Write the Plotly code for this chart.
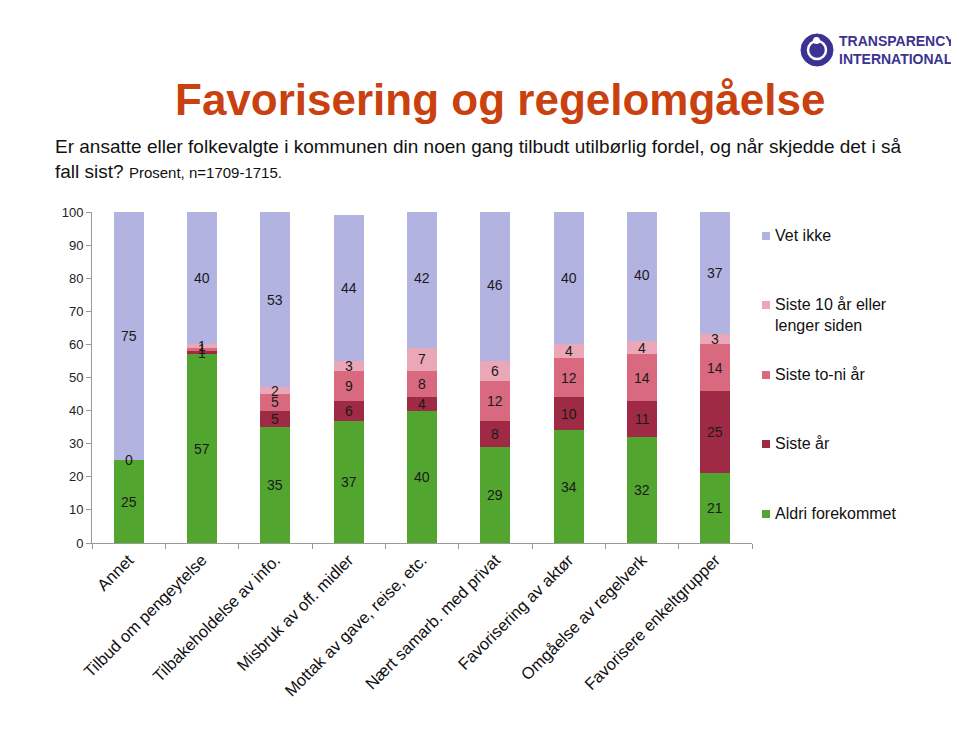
import plotly.graph_objects as go

categories = ["Annet", "Tilbud om pengeytelse", "Tilbakeholdelse av info.",
              "Misbruk av off. midler", "Mottak av gave, reise, etc.",
              "Nært samarb. med privat", "Favorisering av aktør",
              "Omgåelse av regelverk", "Favorisere enkeltgrupper"]

aldri = [25, 57, 35, 37, 40, 29, 34, 32, 21]
siste_aar = [0, 1, 5, 6, 4, 8, 10, 11, 25]
siste_to_ni = [None, 1, 5, 9, 8, 12, 12, 14, 14]
siste_10 = [None, 1, 2, 3, 7, 6, 4, 4, 3]
vet_ikke = [75, 40, 53, 44, 42, 46, 40, 40, 37]

series_names = ["Aldri forekommet", "Siste år", "Siste to-ni år",
                "Siste 10 år eller<br>lenger siden", "Vet ikke"]
series_values = [aldri, siste_aar, siste_to_ni, siste_10, vet_ikke]
series_colors = ["#52A52E", "#9E2A45", "#D8697F", "#EAA7B8", "#B3B3E1"]

FONT = "Arial, Liberation Sans, sans-serif"

# page has an 8px body margin; figure geometry in pixels (decoration placement only)
OFF = 8
W, H = 951, 729
L, R, T, B = 84, 207, 204, 194
PW, PH = W - L - R, H - T - B


def px(x):
    """reference-screenshot x pixel -> paper x"""
    return (x - OFF - L) / PW


def py(y):
    """reference-screenshot y pixel -> paper y"""
    return (H - B - (y - OFF)) / PH


fig = go.Figure()
annotations = []
shapes = []
cum = [0.0] * len(categories)
for name, vals, color in zip(series_names, series_values, series_colors):
    yv = [v if v is not None else 0 for v in vals]
    fig.add_trace(go.Bar(
        x=categories, y=yv, name=name.replace("<br>", " "),
        marker=dict(color=color, line=dict(width=0)),
        showlegend=False, hoverinfo="x+y+name",
    ))
    for j, v in enumerate(vals):
        if v is not None:
            annotations.append(dict(
                x=categories[j], y=cum[j] + v / 2, xref="x", yref="y",
                text=str(v), showarrow=False,
                font=dict(family=FONT, size=14, color="#1a1a1a"),
            ))
        cum[j] += yv[j]

# legend (drawn manually to match the original's spacing)
legend_y = {"Vet ikke": 236, "Siste 10 år eller<br>lenger siden": 305,
            "Siste to-ni år": 375, "Siste år": 444, "Aldri forekommet": 514}
for name, color in zip(series_names, series_colors):
    yc = legend_y[name]
    shapes.append(dict(type="rect", xref="paper", yref="paper",
                       x0=px(762), x1=px(770), y0=py(yc + 4), y1=py(yc - 4),
                       fillcolor=color, line=dict(width=0)))
    annotations.append(dict(
        x=px(773), y=py(yc - 11), xref="paper", yref="paper",
        xanchor="left", yanchor="top", align="left", showarrow=False,
        text=name, font=dict(family=FONT, size=16, color="#111111"),
    ))

# titles
annotations.append(dict(
    x=px(500), y=py(100), xref="paper", yref="paper", xanchor="center", yanchor="middle",
    text="<b>Favorisering og regelomgåelse</b>", showarrow=False,
    font=dict(family=FONT, size=44, color="#C9410F"),
))
annotations.append(dict(
    x=px(53), y=py(134), xref="paper", yref="paper", xanchor="left", yanchor="top",
    align="left", showarrow=False,
    text=("Er ansatte eller folkevalgte i kommunen din noen gang tilbudt utilbørlig fordel, og når skjedde det i så<br>"
          "fall sist? <span style='font-size:15px'>Prosent, n=1709-1715.</span>"),
    font=dict(family=FONT, size=19, color="#111111"),
))
# logo
annotations.append(dict(
    x=px(837), y=py(50), xref="paper", yref="paper", xanchor="left", yanchor="middle",
    align="left", showarrow=False,
    text="<b>TRANSPARENCY<br>INTERNATIONAL</b>",
    font=dict(family=FONT, size=14, color="#3A3393"),
))
shapes += [
    dict(type="circle", xref="paper", yref="paper",
         x0=px(801), x1=px(833), y0=py(66), y1=py(34),
         fillcolor="#3A3393", line=dict(color="#3A3393", width=1)),
    dict(type="circle", xref="paper", yref="paper",
         x0=px(808), x1=px(826), y0=py(59), y1=py(41),
         fillcolor="rgba(0,0,0,0)", line=dict(color="white", width=2.5)),
    dict(type="circle", xref="paper", yref="paper",
         x0=px(813), x1=px(820), y0=py(44), y1=py(37),
         fillcolor="white", line=dict(color="white", width=0)),
]

fig.update_layout(
    barmode="stack",
    bargap=0.59,
    width=W, height=H,
    margin=dict(l=L, r=R, t=T, b=B, autoexpand=False),
    paper_bgcolor="white", plot_bgcolor="white",
    font=dict(family=FONT, color="#222222"),
    annotations=annotations,
    shapes=shapes,
    showlegend=False,
    xaxis=dict(
        range=[-0.5, 8.5], tickangle=-45, showline=True, linecolor="#9a9a9a",
        ticks="outside", tickson="boundaries", ticklen=5, tickcolor="#9a9a9a",
        tickfont=dict(family=FONT, size=16.5, color="#111111"), showgrid=False,
    ),
    yaxis=dict(
        range=[0, 100], dtick=10, showline=True, linecolor="#9a9a9a",
        ticks="outside", ticklen=5, tickcolor="#9a9a9a", showgrid=False,
        zeroline=False, tickfont=dict(family=FONT, size=13, color="#222222"),
    ),
)

fig.write_html("out.html")
